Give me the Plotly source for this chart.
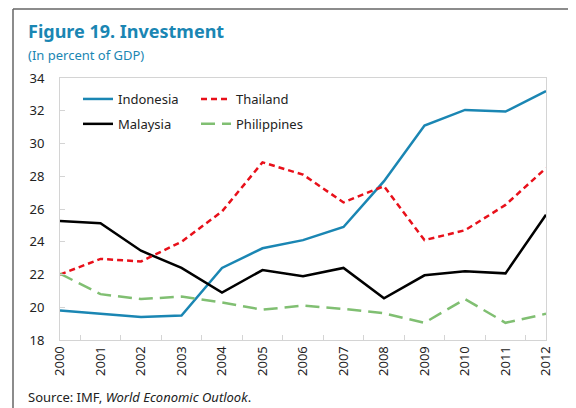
import plotly.graph_objects as go

years = [str(y) for y in range(2000, 2013)]
indonesia = [19.8, 19.6, 19.4, 19.5, 22.4, 23.6, 24.1, 24.9, 27.7, 31.1, 32.05, 31.95, 33.2]
thailand = [22.0, 22.95, 22.8, 24.0, 25.85, 28.85, 28.1, 26.4, 27.4, 24.1, 24.7, 26.25, 28.5]
malaysia = [25.27, 25.13, 23.45, 22.4, 20.9, 22.27, 21.9, 22.4, 20.55, 21.95, 22.2, 22.07, 25.65]
philippines = [22.05, 20.8, 20.5, 20.65, 20.3, 19.85, 20.1, 19.9, 19.63, 19.05, 20.5, 19.05, 19.6]
y_ticks = [18, 20, 22, 24, 26, 28, 30, 32, 34]

# page body has an 8px margin, so figure coords = page coords - 8
O = 8
W, H = 576 - O, 408 - O
L, R, T, B = 60 - O, 546 - O, 78 - O, 340 - O

def px(x):
    return (x - O - L) / (R - L)

def py(y):
    return (B - (y - O)) / (B - T)

FONT = "Noto Sans"
fig = go.Figure()

series = [
    ("Indonesia", indonesia, dict(color="#1a86b3", width=2.5), "legend"),
    ("Malaysia", malaysia, dict(color="#000000", width=2.5), "legend"),
    ("Thailand", thailand, dict(color="#e8101a", width=2.5, dash="6px,4px"), "legend2"),
    ("Philippines", philippines, dict(color="#80bf72", width=2.5, dash="14px,7px"), "legend2"),
]
for name, vals, line, leg in series:
    fig.add_trace(go.Scatter(x=years, y=vals, mode="lines", name=name, line=line,
                             legend=leg, legendgroup=name))

legend_common = dict(
    bgcolor="rgba(0,0,0,0)", borderwidth=0,
    font=dict(family=FONT, size=13, color="#222222"),
    orientation="v", xanchor="left", yanchor="top", tracegroupgap=5,
    itemwidth=30,
)

fig.update_layout(
    width=W, height=H,
    margin=dict(l=L, r=W - R, t=T, b=H - B, pad=0),
    paper_bgcolor="white", plot_bgcolor="white",
    showlegend=True,
    legend=dict(**legend_common, x=px(78), y=py(84)),
    legend2=dict(**legend_common, x=px(196), y=py(84)),
    font=dict(family=FONT, size=13, color="#222222"),
    xaxis=dict(
        type="category", tickson="boundaries", ticks="inside", ticklen=5,
        tickcolor="#d4d4d4", showline=True, linecolor="#d4d4d4", linewidth=1,
        mirror=True, showgrid=False, tickangle=-90, zeroline=False,
        tickfont=dict(family=FONT, size=13, color="#222222"),
    ),
    yaxis=dict(
        range=[18, 34], tickvals=y_ticks, ticks="inside", ticklen=5,
        tickcolor="#d4d4d4", showline=True, linecolor="#d4d4d4", linewidth=1,
        mirror=True, showgrid=False, zeroline=False, ticklabelstandoff=12,
        tickfont=dict(family=FONT, size=13, color="#222222"),
    ),
)

# outer frame (top and left edges)
fig.add_shape(type="line", xref="paper", yref="paper", x0=px(13), x1=px(590),
              y0=py(9), y1=py(9), line=dict(color="#666666", width=1.5))
fig.add_shape(type="line", xref="paper", yref="paper", x0=px(13), x1=px(13),
              y0=py(9), y1=py(420), line=dict(color="#666666", width=1.5))

fig.add_annotation(xref="paper", yref="paper", x=px(26), y=py(31), xanchor="left",
                   yanchor="middle", showarrow=False,
                   text="<b>Figure 19. Investment</b>",
                   font=dict(family=FONT, size=18, color="#1a86b3"))
fig.add_annotation(xref="paper", yref="paper", x=px(26), y=py(55), xanchor="left",
                   yanchor="middle", showarrow=False,
                   text="(In percent of GDP)",
                   font=dict(family=FONT, size=13, color="#1a86b3"))
fig.add_annotation(xref="paper", yref="paper", x=px(26), y=py(397), xanchor="left",
                   yanchor="middle", showarrow=False,
                   text="Source: IMF, <i>World Economic Outlook</i>.",
                   font=dict(family=FONT, size=13, color="#222222"))

fig.write_html("out.html")
